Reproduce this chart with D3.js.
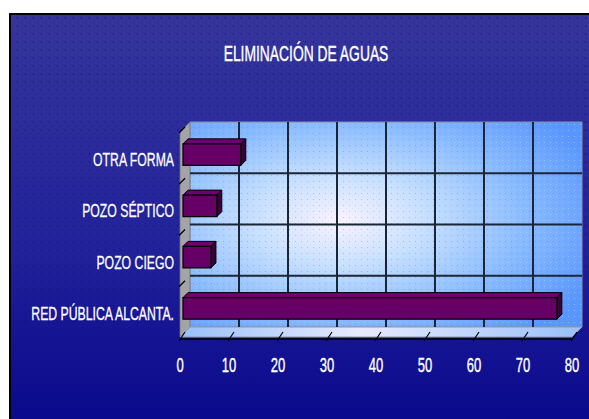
<!DOCTYPE html>
<html>
<head>
<meta charset="utf-8">
<script src="https://cdn.jsdelivr.net/npm/d3@7"></script>
<style>
  html, body { margin: 0; padding: 0; background: #ffffff; }
  svg { display: block; }
  text { font-family: "Liberation Sans", "DejaVu Sans", sans-serif; fill: #ffffff; }
</style>
</head>
<body>
<div id="chart"></div>
<script>
// Data: waste-water disposal, percentages
const title = "ELIMINACIÓN DE AGUAS";
const categories = ["RED PÚBLICA ALCANTA.", "POZO CIEGO", "POZO SÉPTICO", "OTRA FORMA"];
const values = [76.3, 5.7, 6.9, 11.8];
const xTicks = [0, 10, 20, 30, 40, 50, 60, 70, 80];

const W = 589, H = 419;
const svg = d3.select("#chart").append("svg").attr("width", W).attr("height", H);
const defs = svg.append("defs");

// Front plane of the 3D box, and the depth offset of the back wall
const front = { left: 180, right: 572, top: 132, bottom: 337 };
const depth = 10;

const x = d3.scaleLinear().domain([0, 80]).range([front.left, front.right]);
const y = d3.scaleBand().domain(categories).range([front.bottom, front.top]);

// project a front-plane point back by z pixels of depth
const P = (px, py, z) => [px + z, py - z];
const poly = pts => "M" + pts.map(p => p.join(",")).join("L") + "Z";

// ---- gradients and patterns ----
const bgGrad = defs.append("linearGradient").attr("id", "bgGrad").attr("x1", 0).attr("y1", 0).attr("x2", 0).attr("y2", 1);
bgGrad.append("stop").attr("offset", "0%").attr("stop-color", "#35359b");
bgGrad.append("stop").attr("offset", "55%").attr("stop-color", "#22229a");
bgGrad.append("stop").attr("offset", "100%").attr("stop-color", "#07078c");

const dots = defs.append("pattern").attr("id", "dots").attr("width", 8).attr("height", 8)
  .attr("patternUnits", "userSpaceOnUse");
dots.append("rect").attr("x", 1).attr("y", 1).attr("width", 1).attr("height", 2).attr("fill", "#10106a").attr("opacity", 0.6);
dots.append("rect").attr("x", 5).attr("y", 5).attr("width", 1).attr("height", 1).attr("fill", "#1a1a80").attr("opacity", 0.4);

const wallGrad = defs.append("radialGradient").attr("id", "wallGrad")
  .attr("cx", 0.38).attr("cy", 0.48).attr("r", 0.72).attr("fx", 0.38).attr("fy", 0.48);
wallGrad.append("stop").attr("offset", "0%").attr("stop-color", "#fcf2ff");
wallGrad.append("stop").attr("offset", "30%").attr("stop-color", "#c9e0ff");
wallGrad.append("stop").attr("offset", "65%").attr("stop-color", "#8cbcff");
wallGrad.append("stop").attr("offset", "100%").attr("stop-color", "#5a96ff");

const floorGrad = defs.append("linearGradient").attr("id", "floorGrad").attr("x1", 0).attr("y1", 0).attr("x2", 1).attr("y2", 0);
floorGrad.append("stop").attr("offset", "0%").attr("stop-color", "#98c0f8");
floorGrad.append("stop").attr("offset", "45%").attr("stop-color", "#e8eaff");
floorGrad.append("stop").attr("offset", "100%").attr("stop-color", "#98c0f8");

const wallDots = defs.append("pattern").attr("id", "wallDots").attr("width", 6).attr("height", 6)
  .attr("patternUnits", "userSpaceOnUse");
wallDots.append("rect").attr("x", 1).attr("y", 1).attr("width", 1).attr("height", 1).attr("fill", "#3a7ad0").attr("opacity", 0.35);
wallDots.append("rect").attr("x", 4).attr("y", 4).attr("width", 1).attr("height", 1).attr("fill", "#9fe8ff").attr("opacity", 0.5);

// ---- chart panel ----
svg.append("rect").attr("x", 10).attr("y", 14).attr("width", W).attr("height", H)
  .attr("fill", "url(#bgGrad)");
svg.append("rect").attr("x", 10).attr("y", 14).attr("width", W).attr("height", H)
  .attr("fill", "url(#dots)");
svg.append("path").attr("d", `M10,${H}L10,14L${W},14`).attr("fill", "none")
  .attr("stroke", "#000000").attr("stroke-width", 2);

// ---- title ----
svg.append("text")
  .attr("transform", "translate(306,53) scale(0.63,1)")
  .attr("text-anchor", "middle").attr("dominant-baseline", "central")
  .attr("font-size", 22)
  .attr("stroke", "#ffffff").attr("stroke-width", 0.4)
  .text(title);

// ---- 3D box: back wall, side wall, floor ----
const g = svg.append("g");
const x0 = x(0), x80 = x(80);

g.append("path").attr("d", poly([P(x0, front.top, depth), P(x80, front.top, depth), P(x80, front.bottom, depth), P(x0, front.bottom, depth)]))
  .attr("fill", "url(#wallGrad)").attr("stroke", "#8a94a8").attr("stroke-width", 1);
g.append("path").attr("d", poly([P(x0, front.top, depth), P(x80, front.top, depth), P(x80, front.bottom, depth), P(x0, front.bottom, depth)]))
  .attr("fill", "url(#wallDots)");

g.append("path").attr("d", poly([P(x0, front.top, 0), P(x0, front.top, depth), P(x0, front.bottom, depth), P(x0, front.bottom, 0)]))
  .attr("fill", "#a3a3a8").attr("stroke", "#707078").attr("stroke-width", 0.8);

g.append("path").attr("d", poly([P(x0, front.bottom, 0), P(x0, front.bottom, depth), P(x80, front.bottom, depth), P(x80, front.bottom, 0)]))
  .attr("fill", "url(#floorGrad)").attr("stroke", "#9098a8").attr("stroke-width", 1);

// vertical gridlines on the back wall
const inner = xTicks.filter(t => t > 0 && t < 80);
g.selectAll(".vgrid").data(inner).join("line").attr("class", "vgrid")
  .attr("x1", d => P(x(d), front.top, depth)[0]).attr("x2", d => P(x(d), front.top, depth)[0])
  .attr("y1", P(0, front.top, depth)[1]).attr("y2", P(0, front.bottom, depth)[1])
  .attr("stroke", "#1a2636").attr("stroke-width", 2);

// horizontal gridlines at category boundaries
const bounds = categories.slice(0, -1).map(c => y(c));
g.selectAll(".hgrid").data(bounds).join("line").attr("class", "hgrid")
  .attr("x1", P(x0, 0, depth)[0]).attr("x2", P(x80, 0, depth)[0])
  .attr("y1", d => P(0, d, depth)[1]).attr("y2", d => P(0, d, depth)[1])
  .attr("stroke", "#1a2636").attr("stroke-width", 2);

// short diagonals on the side wall
g.selectAll(".sdiag").data(bounds.concat([front.top])).join("line").attr("class", "sdiag")
  .attr("x1", x0 - 1).attr("y1", d => d + 1)
  .attr("x2", d => P(x0, d, depth * 0.5)[0]).attr("y2", d => P(x0, d, depth * 0.5)[1])
  .attr("stroke", "#000000").attr("stroke-width", 1.2);

// floor diagonals and the x axis
g.selectAll(".fdiag").data(xTicks).join("line").attr("class", "fdiag")
  .attr("x1", d => x(d) - 1).attr("y1", front.bottom + 4)
  .attr("x2", d => P(x(d), front.bottom, depth * 0.5)[0]).attr("y2", d => P(x(d), front.bottom, depth * 0.5)[1])
  .attr("stroke", "#000000").attr("stroke-width", 1.2);
g.append("line").attr("x1", x0).attr("x2", x80 + 1).attr("y1", front.bottom + 2).attr("y2", front.bottom + 2)
  .attr("stroke", "#000000").attr("stroke-width", 1.5);

// ---- bars (3D boxes) ----
const zF = 3, zB = 8;
const barH = y.bandwidth() * 0.42;
const bars = g.selectAll(".bar").data(categories.map((c, i) => ({ c, v: values[i] }))).join("g").attr("class", "bar");

bars.each(function (d) {
  const b = d3.select(this);
  const yc = y(d.c) + y.bandwidth() / 2;
  const t = yc - barH / 2, bt = yc + barH / 2;
  const xl = x(0), xr = x(d.v);
  // top face
  b.append("path").attr("d", poly([P(xl, t, zF), P(xr, t, zF), P(xr, t, zB), P(xl, t, zB)]))
    .attr("fill", "#700070").attr("stroke", "#000000").attr("stroke-width", 1);
  // end face
  b.append("path").attr("d", poly([P(xr, t, zF), P(xr, t, zB), P(xr, bt, zB), P(xr, bt, zF)]))
    .attr("fill", "#3a003a").attr("stroke", "#000000").attr("stroke-width", 1);
  // front face
  b.append("path").attr("d", poly([P(xl, t, zF), P(xr, t, zF), P(xr, bt, zF), P(xl, bt, zF)]))
    .attr("fill", "#660066").attr("stroke", "#000000").attr("stroke-width", 1.2);
});

// ---- axis labels ----
svg.selectAll(".xlab").data(xTicks).join("text").attr("class", "xlab")
  .attr("transform", d => `translate(${x(d)},365) scale(0.62,1)`)
  .attr("text-anchor", "middle").attr("dominant-baseline", "central")
  .attr("font-size", 21)
  .attr("stroke", "#ffffff").attr("stroke-width", 0.4)
  .text(d => d);

svg.selectAll(".ylab").data(categories).join("text").attr("class", "ylab")
  .attr("transform", d => `translate(174,${y(d) + y.bandwidth() / 2 + 2}) scale(0.645,1)`)
  .attr("text-anchor", "end").attr("dominant-baseline", "central")
  .attr("font-size", 19)
  .attr("stroke", "#ffffff").attr("stroke-width", 0.3)
  .text(d => d);
</script>
</body>
</html>
